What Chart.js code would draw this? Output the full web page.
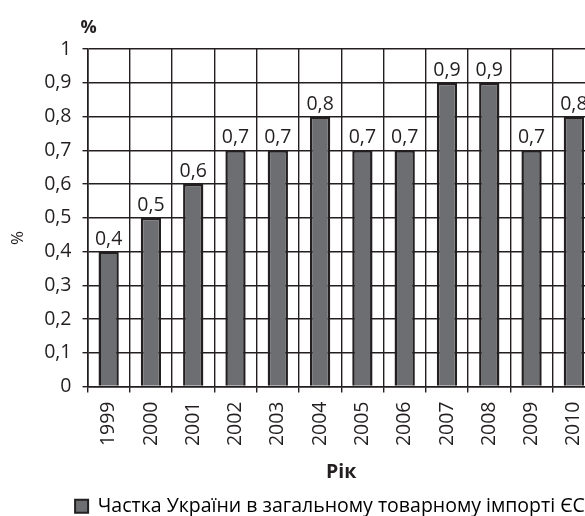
<!DOCTYPE html>
<html>
<head>
<meta charset="utf-8">
<script src="https://cdn.jsdelivr.net/npm/chart.js@4"></script>
<style>
  html, body { margin: 0; padding: 0; background: #fff; overflow: hidden; }
  #wrap { width: 660px; height: 516px; }
</style>
</head>
<body>
<div id="wrap"><canvas id="chart"></canvas></div>
<script>
// Data
const years = ['1999', '2000', '2001', '2002', '2003', '2004', '2005', '2006', '2007', '2008', '2009', '2010'];
const shares = [0.4, 0.5, 0.6, 0.7, 0.7, 0.8, 0.7, 0.7, 0.9, 0.9, 0.7, 0.8];
const seriesName = 'Частка України в загальному товарному імпорті ЄС';

const ink = '#231f20';
const barFill = '#6d6e71';
const fontFamily = "'Open Sans', 'Noto Sans', sans-serif";
const textSize = 19.5;

// decimal comma, like the original
function fmt(v) {
  return String(Math.round(v * 10) / 10).replace('.', ',');
}

// let the y tick labels use the left margin (otherwise they get clipped)
const widenYAxis = {
  id: 'widenYAxis',
  afterLayout(chart) {
    chart.scales.y.left = 0;
  }
};

// value labels above the bars
const barLabels = {
  id: 'barLabels',
  afterDatasetsDraw(chart) {
    const ctx = chart.ctx;
    const meta = chart.getDatasetMeta(0);
    ctx.save();
    ctx.font = textSize + 'px ' + fontFamily;
    ctx.fillStyle = ink;
    ctx.textAlign = 'center';
    ctx.textBaseline = 'alphabetic';
    meta.data.forEach((bar, i) => {
      ctx.fillText(fmt(shares[i]), bar.x, bar.y - 7);
    });
    ctx.restore();
  }
};

// "%" unit over the y axis and the rotated y title
const unitTitles = {
  id: 'unitTitles',
  afterDraw(chart) {
    const ctx = chart.ctx;
    const area = chart.chartArea;
    ctx.save();
    ctx.fillStyle = ink;
    ctx.font = 'bold 18px ' + fontFamily;
    ctx.textAlign = 'left';
    ctx.textBaseline = 'alphabetic';
    ctx.fillText('%', area.left - 7, area.top - 16);

    ctx.font = '17px ' + fontFamily;
    ctx.translate(18, 238);
    ctx.rotate(-Math.PI / 2);
    ctx.textAlign = 'center';
    ctx.textBaseline = 'middle';
    ctx.fillText('%', 0, 0);
    ctx.restore();
  }
};

new Chart(document.getElementById('chart'), {
  type: 'bar',
  data: {
    labels: years,
    datasets: [{
      label: seriesName,
      data: shares,
      backgroundColor: barFill,
      borderColor: ink,
      borderWidth: 2.5,
      categoryPercentage: 1,
      barPercentage: 0.48
    }]
  },
  options: {
    responsive: true,
    maintainAspectRatio: false,
    animation: false,
    layout: { padding: { top: 49, right: 65, left: 65, bottom: -10 } },
    scales: {
      x: {
        grid: { color: ink, lineWidth: 1.4, tickLength: 6, offset: true },
        border: { color: ink, width: 1.6 },
        ticks: {
          color: ink,
          font: { family: fontFamily, size: textSize },
          minRotation: 90,
          maxRotation: 90,
          padding: 9
        },
        title: {
          display: true,
          text: 'Рік',
          color: ink,
          font: { family: fontFamily, size: textSize, weight: 'bold' },
          padding: { top: 0, bottom: 9 }
        },
        afterFit(scale) { scale.height = 107; }
      },
      y: {
        min: 0,
        max: 1,
        grid: { color: ink, lineWidth: 1.4, tickLength: 5 },
        border: { color: ink, width: 1.6 },
        ticks: {
          stepSize: 0.1,
          color: ink,
          font: { family: fontFamily, size: textSize },
          padding: 11,
          callback: (v) => fmt(v)
        },
        afterFit(scale) { scale.width = 22.5; }
      }
    },
    plugins: {
      legend: {
        position: 'bottom',
        labels: {
          color: ink,
          font: { family: fontFamily, size: textSize },
          boxWidth: 13,
          boxHeight: 13,
          padding: 3,
          generateLabels: (chart) => [{
            text: seriesName,
            fillStyle: barFill,
            strokeStyle: ink,
            lineWidth: 2,
            datasetIndex: 0
          }]
        }
      },
      tooltip: { enabled: false }
    }
  },
  plugins: [widenYAxis, barLabels, unitTitles]
});
</script>
</body>
</html>
